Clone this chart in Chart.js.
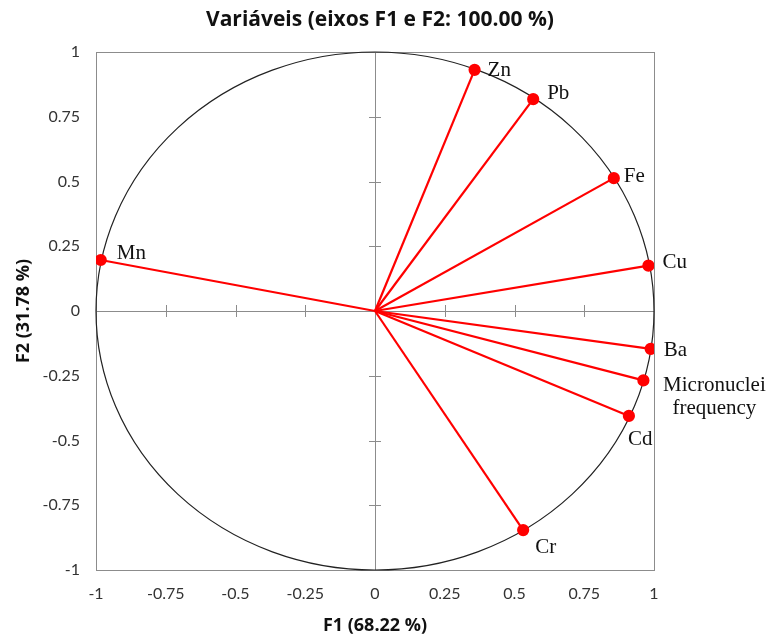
<!DOCTYPE html>
<html>
<head>
<meta charset="utf-8">
<script src="https://cdn.jsdelivr.net/npm/chart.js@4.4.1/dist/chart.umd.min.js"></script>
<style>
  html, body { margin: 0; padding: 0; background: #fff; }
  .chart-box { width: 781px; height: 638px; position: relative; }
</style>
</head>
<body>
<div class="chart-box"><canvas id="pcaChart"></canvas></div>
<script>
// variables of the correlation circle (F1 / F2 loadings)
const variables = ['Zn', 'Pb', 'Fe', 'Cu', 'Mn', 'Ba', 'Micronuclei frequency', 'Cd', 'Cr'];
const f1Values = [0.357, 0.567, 0.856, 0.980, -0.983, 0.988, 0.962, 0.910, 0.531];
const f2Values = [0.931, 0.818, 0.513, 0.175, 0.197, -0.146, -0.268, -0.405, -0.846];
const tickValues = [-1, -0.75, -0.5, -0.25, 0, 0.25, 0.5, 0.75, 1];

// where each label sits relative to its point (px)
const labelOffsets = [[13, 1], [14, -6], [10, -2], [14, -3], [16, -6], [13, 2], [71, 5], [-1, 24], [12, 17]];

const RED = '#ff0000';

const datasets = variables.map((name, i) => ({
  label: name,
  data: [{ x: 0, y: 0 }, { x: f1Values[i], y: f2Values[i] }],
  showLine: true,
  borderColor: RED,
  borderWidth: 2.2,
  pointRadius: [0, 5],
  pointHoverRadius: [0, 5],
  pointBackgroundColor: RED,
  pointBorderColor: RED
}));

// box, zero axes with ticks, the unit circle, title and labels
const circlePlugin = {
  id: 'circlePlugin',
  beforeDatasetsDraw(chart) {
    const { ctx, chartArea: a, scales: { x, y } } = chart;
    const x0 = x.getPixelForValue(0);
    const y0 = y.getPixelForValue(0);
    ctx.save();
    ctx.strokeStyle = '#8c8c8c';
    ctx.lineWidth = 1;
    ctx.strokeRect(a.left + 0.5, a.top + 0.5, a.width, a.height);

    ctx.beginPath();
    ctx.moveTo(Math.round(x0) + 0.5, a.top);
    ctx.lineTo(Math.round(x0) + 0.5, a.bottom);
    ctx.moveTo(a.left, Math.round(y0) + 0.5);
    ctx.lineTo(a.right, Math.round(y0) + 0.5);
    tickValues.forEach(v => {
      if (v === 0 || Math.abs(v) === 1) return;
      const px = Math.round(x.getPixelForValue(v)) + 0.5;
      ctx.moveTo(px, y0 - 6);
      ctx.lineTo(px, y0 + 6);
      const py = Math.round(y.getPixelForValue(v)) + 0.5;
      ctx.moveTo(x0 - 6, py);
      ctx.lineTo(x0 + 6, py);
    });
    ctx.stroke();

    ctx.strokeStyle = '#222';
    ctx.lineWidth = 1.2;
    ctx.beginPath();
    ctx.ellipse(x0, y0, x.getPixelForValue(1) - x0, y0 - y.getPixelForValue(1), 0, 0, Math.PI * 2);
    ctx.stroke();
    ctx.restore();
  },
  afterDatasetsDraw(chart) {
    const { ctx } = chart;
    ctx.save();
    ctx.fillStyle = '#111';
    ctx.textBaseline = 'middle';

    // chart title
    ctx.font = 'bold 21px "Open Sans", Lato, sans-serif';
    ctx.textAlign = 'center';
    ctx.fillText('Variáveis (eixos F1 e F2: 100.00 %)', 380, 20);

    ctx.font = '21px "Liberation Serif", "DejaVu Serif", serif';
    chart.data.datasets.forEach((ds, i) => {
      const pt = chart.getDatasetMeta(i).data[1];
      const [dx, dy] = labelOffsets[i];
      const words = ds.label === 'Micronuclei frequency' ? ['Micronuclei', 'frequency'] : [ds.label];
      ctx.textAlign = words.length > 1 ? 'center' : 'left';
      words.forEach((w, k) => ctx.fillText(w, pt.x + dx, pt.y + dy + k * 23));
    });
    ctx.restore();
  }
};

const tickFont = { family: 'Lato, "Open Sans", sans-serif', size: 16 };
const titleFont = { family: '"Open Sans", Lato, sans-serif', size: 18, weight: 'bold' };

new Chart(document.getElementById('pcaChart'), {
  type: 'scatter',
  data: { datasets },
  options: {
    responsive: true,
    maintainAspectRatio: false,
    animation: false,
    layout: { padding: { top: 52, right: 127, bottom: 0, left: 0 } },
    plugins: {
      legend: { display: false },
      tooltip: { enabled: false },
      title: { display: false }
    },
    scales: {
      x: {
        type: 'linear',
        min: -1,
        max: 1,
        afterBuildTicks: s => { s.ticks = tickValues.map(v => ({ value: v })); },
        afterFit: s => { s.height = 68; },
        grid: { display: false, drawTicks: false },
        border: { display: false },
        ticks: { font: tickFont, color: '#333', padding: 14, callback: v => String(v) },
        title: { display: true, text: 'F1 (68.22 %)', font: titleFont, color: '#111', padding: { top: 0, bottom: 1 } }
      },
      y: {
        type: 'linear',
        min: -1,
        max: 1,
        afterBuildTicks: s => { s.ticks = tickValues.map(v => ({ value: v })); },
        afterFit: s => { s.width = 96; },
        grid: { display: false, drawTicks: false },
        border: { display: false },
        ticks: { font: tickFont, color: '#333', padding: 16, callback: v => String(v) },
        title: { display: true, text: 'F2 (31.78 %)', font: titleFont, color: '#111', padding: { top: 13, bottom: 0 } }
      }
    }
  },
  plugins: [circlePlugin]
});
</script>
</body>
</html>
